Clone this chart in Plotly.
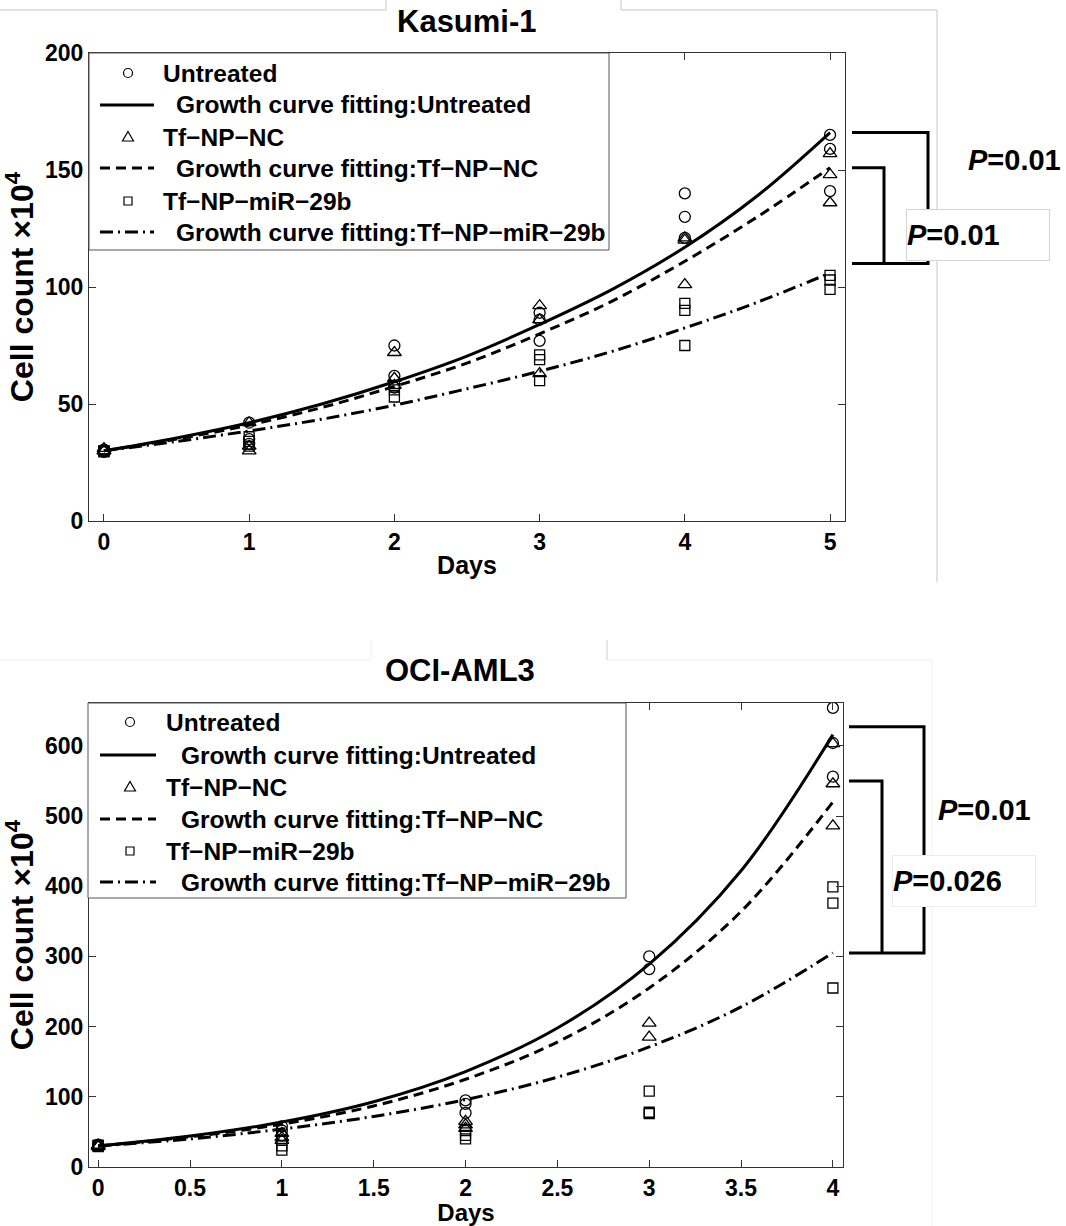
import plotly.graph_objects as go

W, H = 1066, 1226
FONT = "Liberation Sans, Arial, Helvetica, sans-serif"

# ---------------- data ----------------
# Kasumi-1 replicate measurements
k_point_days = [0, 0, 0, 1, 1, 1, 2, 2, 2, 3, 3, 3, 4, 4, 4, 5, 5, 5]
k_untreated = [30, 29.5, 30.5, 42, 35, 33, 75, 62, 57, 89, 86, 77, 140, 130, 121, 165, 159, 141]
k_nc = [30, 30, 31, 42, 32, 30, 72, 61, 58, 92, 86, 63, 121, 120, 101, 157, 148, 136]
k_mir = [30, 29.5, 30, 36, 34, 32, 58, 56, 53, 71, 69, 60, 93, 90, 75, 105, 103, 99]

# Kasumi-1 fitted growth curves (read at half-day steps)
k_curve_days = [0, 0.5, 1, 1.5, 2, 2.5, 3, 3.5, 4, 4.5, 5]
k_fit_untreated = [30, 35.5, 42, 50, 59.5, 70.5, 84, 99, 117, 139, 166]
k_fit_nc = [30, 35, 41, 48.5, 57.5, 67.5, 80, 94, 111, 130, 151]
k_fit_mir = [30, 34, 38.5, 43.5, 49.5, 56.5, 64, 72.5, 82.5, 93.5, 106]

# OCI-AML3 replicate measurements
o_untreated_days = [0, 0, 0, 1, 1, 1, 2, 2, 2, 3, 3, 4, 4, 4]
o_untreated = [31, 30, 32, 58, 52, 45, 95, 90, 77, 300, 282, 654, 604, 556]
o_nc_days = [0, 0, 0, 1, 1, 1, 2, 2, 2, 3, 3, 4, 4, 4]
o_nc = [31, 30, 29, 48, 42, 38, 65, 60, 55, 205, 185, 603, 546, 486]
o_mir_days = [0, 0, 0, 1, 1, 1, 2, 2, 2, 3, 3, 3, 4, 4, 4]
o_mir = [30, 29, 31, 38, 30, 24, 52, 45, 40, 108, 78, 76, 399, 376, 255]

# OCI-AML3 fitted growth curves
o_curve_days = [0, 0.5, 1, 1.5, 2, 2.5, 3, 3.5, 4]
o_fit_untreated = [30, 44, 64, 93, 136, 198, 289, 422, 616]
o_fit_nc = [30, 43, 61, 87, 125, 178, 255, 364, 520]
o_fit_mir = [30, 40, 54, 72, 96, 128, 171, 228, 305]

# significance brackets: [outer top, inner top, common bottom] in data units
k_bracket_levels = [166, 151, 110]
o_bracket_levels = [627, 550, 305]
k_p_labels = ["<i>P</i>=0.01", "<i>P</i>=0.01"]
o_p_labels = ["<i>P</i>=0.01", "<i>P</i>=0.026"]

titles = ["Kasumi-1", "OCI-AML3"]
legend_labels = ["Untreated", "Growth curve fitting:Untreated",
                 "Tf\u2212NP\u2212NC", "Growth curve fitting:Tf\u2212NP\u2212NC",
                 "Tf\u2212NP\u2212miR\u221229b", "Growth curve fitting:Tf\u2212NP\u2212miR\u221229b"]


def px(x):
    return x / W


def py(y):
    return 1 - y / H


fig = go.Figure()

symbols = ["circle-open", "triangle-up-open", "square-open"]
sizes = [11, 12, 10]
dashes = ["solid", "10px,6px", "13px,5px,2px,5px"]

panels = [
    dict(xa="x", ya="y",
         pts=[(k_point_days, k_untreated), (k_point_days, k_nc), (k_point_days, k_mir)],
         fits=[(k_curve_days, k_fit_untreated), (k_curve_days, k_fit_nc), (k_curve_days, k_fit_mir)]),
    dict(xa="x2", ya="y2",
         pts=[(o_untreated_days, o_untreated), (o_nc_days, o_nc), (o_mir_days, o_mir)],
         fits=[(o_curve_days, o_fit_untreated), (o_curve_days, o_fit_nc), (o_curve_days, o_fit_mir)]),
]

for p in panels:
    for i in range(3):
        xs, ys = p["pts"][i]
        fig.add_trace(go.Scatter(
            x=xs, y=ys, mode="markers", name=legend_labels[2 * i],
            marker=dict(symbol=symbols[i], size=sizes[i], color="black",
                        line=dict(width=1.3, color="black")),
            xaxis=p["xa"], yaxis=p["ya"]))
        fx, fy = p["fits"][i]
        fig.add_trace(go.Scatter(
            x=fx, y=fy, mode="lines", name=legend_labels[2 * i + 1],
            line=dict(color="black", width=3, shape="spline", dash=dashes[i]),
            xaxis=p["xa"], yaxis=p["ya"]))

axis_common = dict(showline=True, linecolor="#333", linewidth=1.3, mirror="ticks",
                   ticks="inside", ticklen=7, tickcolor="#333", tickwidth=1,
                   showgrid=False, zeroline=False, automargin=False,
                   tickfont=dict(family=FONT, size=23, color="black", weight="bold"))

xtitle = dict(text="Days", font=dict(family=FONT, size=25, color="black", weight="bold"), standoff=2)
xtitle2 = dict(text="Days", font=dict(family=FONT, size=24, color="black", weight="bold"), standoff=5)
ytitle = dict(text="Cell count \u00d710<sup>4</sup>", font=dict(family=FONT, size=32, color="black", weight="bold"), standoff=2)

shapes = []
annotations = []

# ---- significance brackets ----
def bracket(yref, x_start, x_outer, x_inner, levels):
    top_o, top_i, bot = levels
    shapes.append(dict(type="path", xref="paper", yref=yref,
                       path=f"M{px(x_start)},{top_o} L{px(x_outer)},{top_o} L{px(x_outer)},{bot} L{px(x_start)},{bot}",
                       line=dict(color="black", width=3)))
    shapes.append(dict(type="path", xref="paper", yref=yref,
                       path=f"M{px(x_start)},{top_i} L{px(x_inner)},{top_i} L{px(x_inner)},{bot}",
                       line=dict(color="black", width=3)))

bracket("y", 852, 928, 884, k_bracket_levels)
bracket("y2", 849, 924, 882, o_bracket_levels)

# ---- faint panel frame remnants ----
def seg(x0, y0, x1, y1, col):
    shapes.append(dict(type="line", xref="paper", yref="paper", x0=px(x0), y0=py(y0),
                       x1=px(x1), y1=py(y1), line=dict(color=col, width=1)))

seg(0, 10, 386, 10, "#c4c4c4")
seg(386, 0, 386, 10, "#c4c4c4")
seg(621, 0, 621, 10, "#c4c4c4")
seg(621, 10, 937, 10, "#c4c4c4")
seg(937, 10, 937, 582, "#c4c4c4")
seg(0, 660, 371, 660, "#f0f0f0")
seg(371, 640, 371, 660, "#f0f0f0")
seg(607, 640, 607, 660, "#d0d0d0")
seg(607, 660, 932, 660, "#eeeeee")
seg(932, 660, 932, 1226, "#f0f0f0")

# ---- legends (Matlab-style boxes) ----
LEGFONT = dict(family=FONT, size=24.5, color="black", weight="bold")

def legend_box(x0, y0, x1, y1, rows, mx, lx0, lx1, tx_m, tx_l):
    shapes.append(dict(type="rect", xref="paper", yref="paper", x0=px(x0), y0=py(y0),
                       x1=px(x1), y1=py(y1), line=dict(color="#555", width=1),
                       fillcolor="white", layer="above"))
    for i in range(3):
        ym = rows[2 * i]
        yl = rows[2 * i + 1]
        # marker sample
        if i == 0:
            shapes.append(dict(type="circle", xref="paper", yref="paper",
                               x0=px(mx - 4.5), x1=px(mx + 4.5), y0=py(ym - 4.5), y1=py(ym + 4.5),
                               line=dict(color="black", width=1.2), layer="above"))
        elif i == 1:
            shapes.append(dict(type="path", xref="paper", yref="paper",
                               path=f"M{px(mx)},{py(ym - 5.5)} L{px(mx + 5.5)},{py(ym + 4)} L{px(mx - 5.5)},{py(ym + 4)} Z",
                               line=dict(color="black", width=1.2), layer="above"))
        else:
            shapes.append(dict(type="rect", xref="paper", yref="paper",
                               x0=px(mx - 4), x1=px(mx + 4), y0=py(ym - 4), y1=py(ym + 4),
                               line=dict(color="black", width=1.2), layer="above"))
        annotations.append(dict(text=legend_labels[2 * i], x=px(tx_m), y=py(ym), xref="paper", yref="paper",
                                xanchor="left", yanchor="middle", showarrow=False, font=LEGFONT))
        # line sample
        shapes.append(dict(type="line", xref="paper", yref="paper", x0=px(lx0), x1=px(lx1),
                           y0=py(yl), y1=py(yl), line=dict(color="black", width=3, dash=dashes[i]),
                           layer="above"))
        annotations.append(dict(text=legend_labels[2 * i + 1], x=px(tx_l), y=py(yl), xref="paper", yref="paper",
                                xanchor="left", yanchor="middle", showarrow=False, font=LEGFONT))

legend_box(89, 53, 609, 250, [73, 105, 137, 168, 201, 232], 128, 100, 154, 161, 174)
legend_box(88, 703, 626, 898, [722, 755, 787, 819, 851, 882], 130, 100, 156, 164, 179)

# ---- titles and P values ----
pfont = dict(family=FONT, size=29, color="black", weight="bold")
annotations += [
    dict(text=titles[0], x=px(467), y=py(21), xref="paper", yref="paper", showarrow=False,
         xanchor="center", yanchor="middle", font=dict(family=FONT, size=31, color="black", weight="bold")),
    dict(text=titles[1], x=px(460), y=py(670), xref="paper", yref="paper", showarrow=False,
         xanchor="center", yanchor="middle", font=dict(family=FONT, size=31, color="black", weight="bold")),
    dict(text=k_p_labels[0], x=px(966), y=py(160), xref="paper", yref="paper", xanchor="left",
         yanchor="middle", showarrow=False, font=pfont),
    dict(text=k_p_labels[1], x=px(906), y=py(235), xref="paper", yref="paper", xanchor="left",
         yanchor="middle", showarrow=False, font=pfont, bgcolor="white", bordercolor="#d4d4d4",
         borderwidth=1, width=142, height=50, align="left", borderpad=0),
    dict(text=o_p_labels[0], x=px(936), y=py(810), xref="paper", yref="paper", xanchor="left",
         yanchor="middle", showarrow=False, font=pfont),
    dict(text=o_p_labels[1], x=px(892), y=py(881), xref="paper", yref="paper", xanchor="left",
         yanchor="middle", showarrow=False, font=pfont, bgcolor="white", bordercolor="#ececec",
         borderwidth=1, width=142, height=50, align="left", borderpad=0),
]

fig.update_layout(
    width=W, height=H, margin=dict(l=0, r=0, t=0, b=0, autoexpand=False),
    paper_bgcolor="white", plot_bgcolor="white", showlegend=False,
    xaxis=dict(axis_common, domain=[px(89), px(845)], range=[-0.103, 5.103], tickvals=[0, 1, 2, 3, 4, 5],
               anchor="y", title=xtitle),
    yaxis=dict(axis_common, domain=[py(521), py(53)], range=[0, 200], dtick=50, anchor="x", title=ytitle),
    xaxis2=dict(axis_common, domain=[px(89), px(843)], range=[-0.05, 4.055], dtick=0.5,
                anchor="y2", title=xtitle2),
    yaxis2=dict(axis_common, domain=[py(1167), py(703)], range=[0, 661], dtick=100, anchor="x2", title=ytitle),
    shapes=shapes, annotations=annotations,
)

fig.write_html("out.html")
